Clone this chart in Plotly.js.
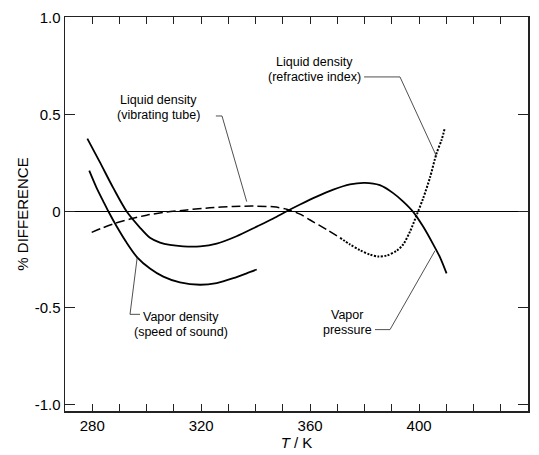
<!DOCTYPE html>
<html>
<head>
<meta charset="utf-8">
<script src="https://cdn.plot.ly/plotly-3.0.1.min.js"></script>
<style>html,body{margin:0;padding:0;background:#fff;}#chart{width:539px;height:455px;}</style>
</head>
<body>
<div id="chart"></div>
<script>
// ---- data ----
const vpT    = [278.2, 282.8, 287.7, 292.6, 297.5, 301.2, 304.9, 308.5, 313.4, 319.6, 325.7, 333.0, 340.4, 346.5, 351.4, 356.3, 362.4, 368.5, 374.6, 380.1, 385.6, 390.5, 394.2, 397.9, 401.5, 405.2, 407.7, 410.1];
const vpDiff = [0.376, 0.254, 0.121, 0.0, -0.084, -0.137, -0.162, -0.174, -0.181, -0.181, -0.167, -0.129, -0.079, -0.037, 0.0, 0.035, 0.076, 0.112, 0.139, 0.147, 0.135, 0.094, 0.050, -0.004, -0.079, -0.171, -0.238, -0.321];

const vdT    = [278.9, 281.6, 284.1, 285.9, 289.0, 292.6, 296.5, 301.2, 306.1, 312.2, 319.6, 325.7, 331.8, 336.7, 340.4];
const vdDiff = [0.210, 0.121, 0.050, 0.0, -0.079, -0.162, -0.238, -0.296, -0.338, -0.368, -0.380, -0.371, -0.346, -0.321, -0.301];

const vtT    = [279.8, 284.1, 289.0, 293.9, 300.0, 307.3, 314.7, 323.2, 331.8, 339.1, 346.5, 351.4, 356.3, 360.0, 366.1, 371.0];
const vtDiff = [-0.109, -0.084, -0.059, -0.040, -0.020, -0.004, 0.007, 0.018, 0.025, 0.027, 0.023, 0.011, -0.015, -0.045, -0.095, -0.137];

const riT    = [371.0, 374.6, 378.3, 382.0, 385.0, 388.1, 391.8, 394.2, 396.7, 399.1, 401.5, 404.0, 406.4, 408.3, 409.5];
const riDiff = [-0.137, -0.171, -0.201, -0.224, -0.234, -0.229, -0.204, -0.171, -0.104, -0.020, 0.067, 0.174, 0.299, 0.370, 0.433];

// ---- ticks ----
const xTickVals = [280, 290, 300, 310, 320, 330, 340, 350, 360, 370, 380, 390, 400, 410, 420, 430, 440];
const xTickText = ['280', '', '', '', '320', '', '', '', '360', '', '', '', '400', '', '', '', '440'];
const yTickVals = [-1, -0.5, 0, 0.5, 1];
const yTickText = ['-1.0', '-0.5', '0', '0.5', '1.0'];

// ---- labels and leader lines ----
const labelText = ['Liquid density', '(vibrating tube)', 'Liquid density', '(refractive index)', 'Vapor density', '(speed of sound)', 'Vapor', 'pressure'];
const labelX    = [304.15, 304.15, 361.6, 361.6, 312.6, 312.6, 373.7, 373.7];
const labelY    = [0.578, 0.500, 0.774, 0.696, -0.547, -0.624, -0.537, -0.614];

const leaderVT = [[325.4, 0.493], [327.65, 0.493], [336.72, 0.050]];
const leaderRI = [[379.8, 0.695], [393.0, 0.695], [406.48, 0.282]];
const leaderVD = [[296.55, -0.235], [293.87, -0.533], [297.54, -0.533]];
const leaderVP = [[383.82, -0.612], [389.33, -0.612], [405.85, -0.204]];

const FONT = 'Liberation Sans, Arial, Helvetica, sans-serif';

function line(x, y, dash, w) {
  return {x: x, y: y, type: 'scatter', mode: 'lines', hoverinfo: 'skip',
          line: {color: '#000', width: w, dash: dash, shape: 'spline', smoothing: 0.8}};
}
const traces = [
  line(vpT, vpDiff, 'solid', 1.8),
  line(vdT, vdDiff, 'solid', 1.8),
  line(vtT, vtDiff, '9px,4px', 1.5),
  line(riT, riDiff, '2px,1.5px', 2)
];

function pathOf(pts) {
  return pts.map((p, i) => (i ? 'L' : 'M') + p[0] + ',' + p[1]).join(' ');
}
const shapes = [leaderVT, leaderRI, leaderVD, leaderVP].map(pts => ({
  type: 'path', xref: 'x', yref: 'y', path: pathOf(pts),
  line: {color: '#222', width: 0.8}
}));

const annotations = labelText.map((t, i) => ({
  x: labelX[i], y: labelY[i], xref: 'x', yref: 'y', text: t, showarrow: false,
  xanchor: 'center', yanchor: 'middle', borderpad: 0,
  font: {family: FONT, size: 12.5, color: '#000'}
}));

const layout = {
  width: 539, height: 455,
  margin: {l: 65, r: 11, t: 17, b: 44, pad: 0},
  paper_bgcolor: '#fff', plot_bgcolor: '#fff',
  showlegend: false,
  font: {family: FONT, color: '#000'},
  xaxis: {
    range: [270, 440], tickvals: xTickVals, ticktext: xTickText,
    ticks: 'inside', ticklen: 7, tickwidth: 1, tickcolor: '#222',
    showline: true, linecolor: '#222', linewidth: 1.5, mirror: 'ticks',
    showgrid: false, zeroline: false,
    tickfont: {family: FONT, size: 15, color: '#000'},
    title: {text: '<i>T</i> / K', font: {family: FONT, size: 15, color: '#000'}, standoff: 4}
  },
  yaxis: {
    range: [-1.033, 1.005], tickvals: yTickVals, ticktext: yTickText,
    ticks: 'inside', ticklen: 10, tickwidth: 1, tickcolor: '#222',
    showline: true, linecolor: '#222', linewidth: 1.5, mirror: 'ticks',
    showgrid: false, zeroline: true, zerolinecolor: '#000', zerolinewidth: 1.2,
    tickfont: {family: FONT, size: 15, color: '#000'},
    title: {text: '% DIFFERENCE', font: {family: FONT, size: 15, color: '#000'}, standoff: 2}
  },
  shapes: shapes,
  annotations: annotations
};

Plotly.newPlot('chart', traces, layout, {displayModeBar: false, staticPlot: true});
</script>
</body>
</html>
